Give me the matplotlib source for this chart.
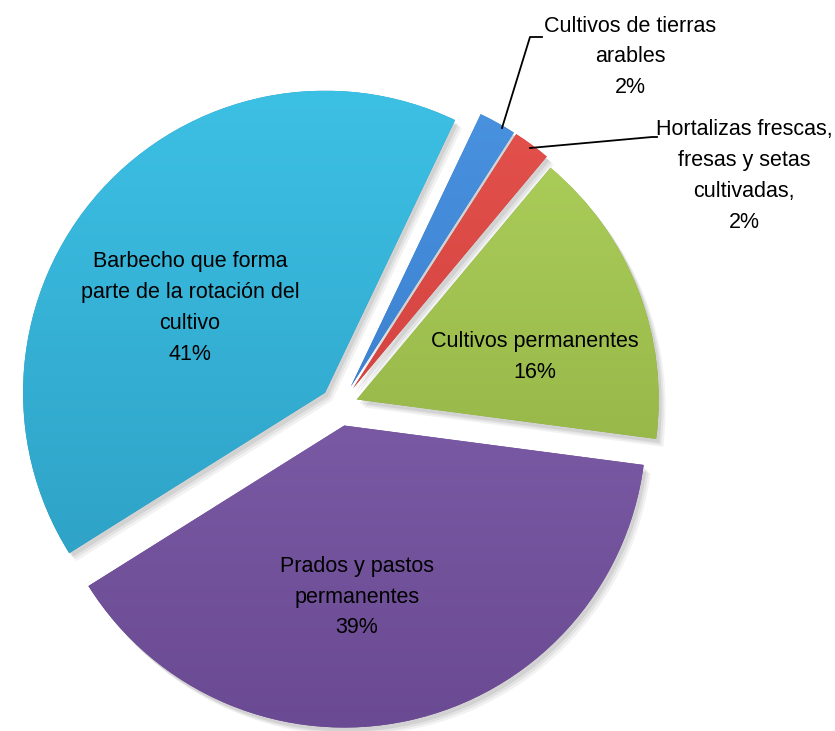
import numpy as np
import matplotlib
matplotlib.use("Agg")
import matplotlib.pyplot as plt
from matplotlib.font_manager import FontProperties
from matplotlib.colors import LinearSegmentedColormap

# ---- data ----
categories = ["Cultivos de tierras\narables", "Hortalizas frescas,\nfresas y setas\ncultivadas,",
              "Cultivos permanentes", "Prados y pastos\npermanentes",
              "Barbecho que forma\nparte de la rotación del\ncultivo"]
values = [2, 2, 16, 39, 41]
pct_labels = ["2%", "2%", "16%", "39%", "41%"]

# ---- style ----
top_colors = ["#4a93e0", "#e5524e", "#aed05c", "#8a68b6", "#3cc0e4"]
bot_colors = ["#2f72c2", "#c53733", "#88a83c", "#6a4a92", "#2b9abf"]
explode = [22, 22, 18, 20, 20]   # pixel offsets
start = 64.5

fp = FontProperties(family="Liberation Sans", size=15.5)

W, H = 835, 731
fig = plt.figure(figsize=(W / 100, H / 100), dpi=100)
ax = fig.add_axes([0, 0, 1, 1])

cx, cy, R = 340, H - 406, 302
# soft shadow
for k, a in [(7, 0.05), (5, 0.06), (3, 0.07)]:
    sw, _ = ax.pie(values, explode=explode, startangle=start, counterclock=False,
                   center=(cx + k, cy - k - 1), radius=R, frame=True,
                   colors=["#000000"] * 5, wedgeprops=dict(linewidth=0, alpha=a))
    for s in sw:
        s.set_zorder(0.5)
wedges, _ = ax.pie(values, explode=explode, startangle=start, counterclock=False,
                   center=(cx, cy), radius=R, frame=True, colors=bot_colors,
                   wedgeprops=dict(linewidth=0))
ax.set_xlim(0, W)
ax.set_ylim(0, H)
ax.set_aspect("equal")
ax.axis("off")

for w, tc, bc in zip(wedges, top_colors, bot_colors):
    w.set_zorder(1)
    wx, wy = w.center
    cmap = LinearSegmentedColormap.from_list("g", [bc, tc])
    im = ax.imshow(np.linspace(0, 1, 256).reshape(-1, 1), cmap=cmap,
                   extent=(wx - R, wx + R, wy - R, wy + R),
                   origin="lower", aspect="auto", zorder=1.1, interpolation="bilinear")
    im.set_clip_path(w)

ls = 1.62
inner = {2: (535, 357), 3: (357, 597), 4: (190, 308)}
for i, (px, py) in inner.items():
    ax.text(px, H - py, categories[i] + "\n" + pct_labels[i], ha="center", va="center",
            fontproperties=fp, linespacing=ls, zorder=10)

ax.text(630, H - 57, categories[0] + "\n" + pct_labels[0], ha="center", va="center",
        fontproperties=fp, linespacing=ls, zorder=10)
ax.plot([502, 530, 542], [H - 128, H - 37, H - 37], color="black", lw=1.3, zorder=10)
ax.text(744, H - 176, categories[1] + "\n" + pct_labels[1], ha="center", va="center",
        fontproperties=fp, linespacing=ls, zorder=10)
ax.plot([530, 652, 657], [H - 148, H - 137, H - 137], color="black", lw=1.3, zorder=10)

fig.savefig("out.png", dpi=100)
